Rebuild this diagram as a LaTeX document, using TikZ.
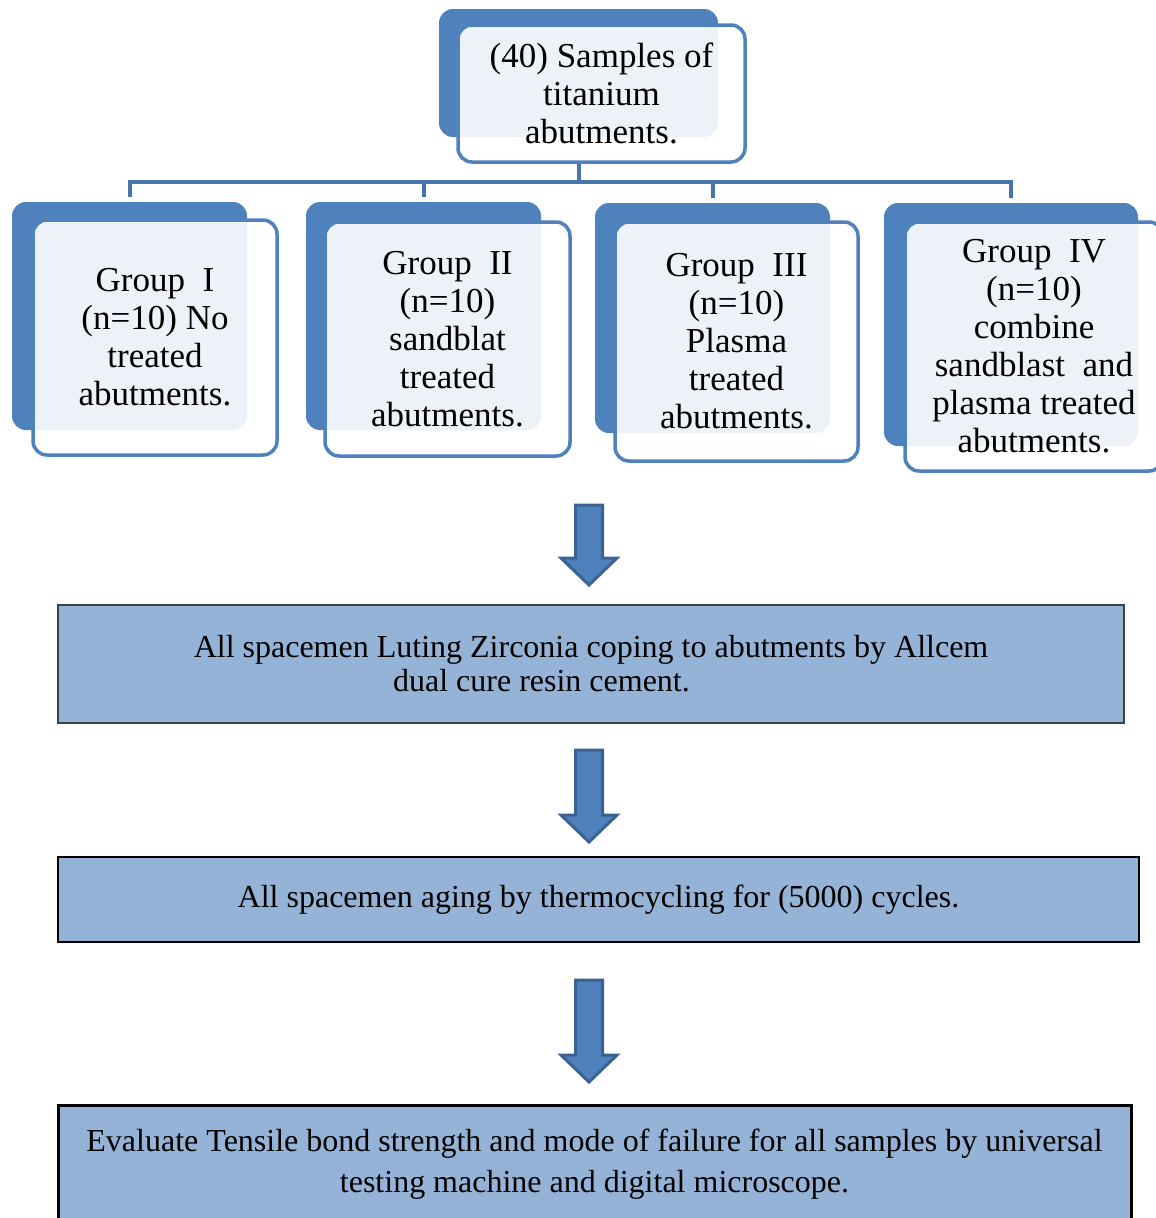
\documentclass[tikz,border=0pt]{standalone}
\usepackage{fontspec}
\setmainfont{Liberation Serif}
\definecolor{bkblue}{HTML}{4F81BD}
\definecolor{lnblue}{HTML}{4674AC}
\definecolor{fillb}{HTML}{95B3D7}
\definecolor{arrbord}{HTML}{3A6292}
\tikzset{
  backbox/.style={draw=none, fill=bkblue, rounded corners=14pt, inner sep=0pt},
  frontbox/.style={draw=bkblue, line width=3.5pt, fill=white, fill opacity=0.9, text opacity=1,
    rounded corners=14pt, align=center, inner sep=0pt, font=\fontsize{35}{38}\selectfont},
  flowbox/.style={draw=black, line width=2pt, fill=fillb, align=center, inner sep=0pt},
  conn/.style={draw=lnblue, line width=4pt, line join=miter},
  barrow/.style={fill=bkblue, draw=arrbord, line width=3pt, line join=miter}
}
\begin{document}
\begin{tikzpicture}[x=1pt,y=-1pt]
\useasboundingbox (0,0) rectangle (1156,1218);
\clip (0,0) rectangle (1156,1218);
\fill[white] (0,0) rectangle (1156,1218);

% top box
\node[backbox, minimum width=279pt, minimum height=128pt] (topb) at (578.5,73) {};
\node[frontbox, minimum width=287pt, minimum height=137pt] (topf) at (601.5,93.5)
  {(40) Samples of\\titanium\\abutments.};

% group boxes
\node[backbox, minimum width=235pt, minimum height=228pt] (g1b) at (129.5,316) {};
\node[frontbox, minimum width=244pt, minimum height=235pt] (g1f) at (155,337.5)
  {Group\ \ I\\(n=10) No\\treated\\abutments.};

\node[backbox, minimum width=235pt, minimum height=228pt] (g2b) at (423.5,316) {};
\node[frontbox, minimum width=245pt, minimum height=234pt] (g2f) at (447.5,339)
  {Group\ \ II\\(n=10)\\sandblat\\treated\\abutments.};

\node[backbox, minimum width=235pt, minimum height=230pt] (g3b) at (712.5,318) {};
\node[frontbox, minimum width=243pt, minimum height=239pt] (g3f) at (736.5,341.5)
  {Group\ \ III\\(n=10)\\Plasma\\treated\\abutments.};

\node[backbox, minimum width=254pt, minimum height=243pt] (g4b) at (1011,324.5) {};
\node[frontbox, minimum width=258pt, minimum height=249pt] (g4f) at (1034,346.5)
  {Group\ \ IV\\(n=10)\\combine\\sandblast\ \ and\\plasma treated\\abutments.};

% connectors
\draw[conn] (topb.south |- topf.south) -- ++(0,18) coordinate (bus);
\draw[conn] ([yshift=5pt]g1b.north) |- (bus) -| ([yshift=5pt]g4b.north);
\draw[conn] ([yshift=5pt]g2b.north) -- (g2b.north |- bus);
\draw[conn] ([yshift=5pt]g3b.north) -- (g3b.north |- bus);

% flow boxes
\node[flowbox, minimum width=1066pt, minimum height=118pt, draw=black!75,
  font=\fontsize{32}{34}\selectfont] (b1) at (591,664)
  {All spacemen Luting Zirconia coping to abutments by Allcem\\dual cure resin cement.\hspace*{99pt}};
\node[flowbox, minimum width=1081pt, minimum height=85pt, line width=2.5pt,
  font=\fontsize{32}{34}\selectfont] (b2) at (598.5,899.5)
  {All spacemen aging by thermocycling for (5000) cycles.};
\node[flowbox, minimum width=1073pt, minimum height=119pt, line width=3pt,
  font=\fontsize{32}{41}\selectfont] (b3) at (594.5,1164.5)
  {Evaluate Tensile bond strength and mode of failure for all samples by universal\\testing machine and digital microscope.};

% block arrows
\draw[barrow] (575.5,505) -- (602.5,505) -- (602.5,558) -- (617,558) -- (589,585)
  -- (561,558) -- (575.5,558) -- cycle;
\draw[barrow] (575.5,750) -- (602.5,750) -- (602.5,815) -- (617,815) -- (589,842)
  -- (561,815) -- (575.5,815) -- cycle;
\draw[barrow] (575.5,980) -- (602.5,980) -- (602.5,1055) -- (617,1055) -- (589,1082)
  -- (561,1055) -- (575.5,1055) -- cycle;
\end{tikzpicture}
\end{document}
